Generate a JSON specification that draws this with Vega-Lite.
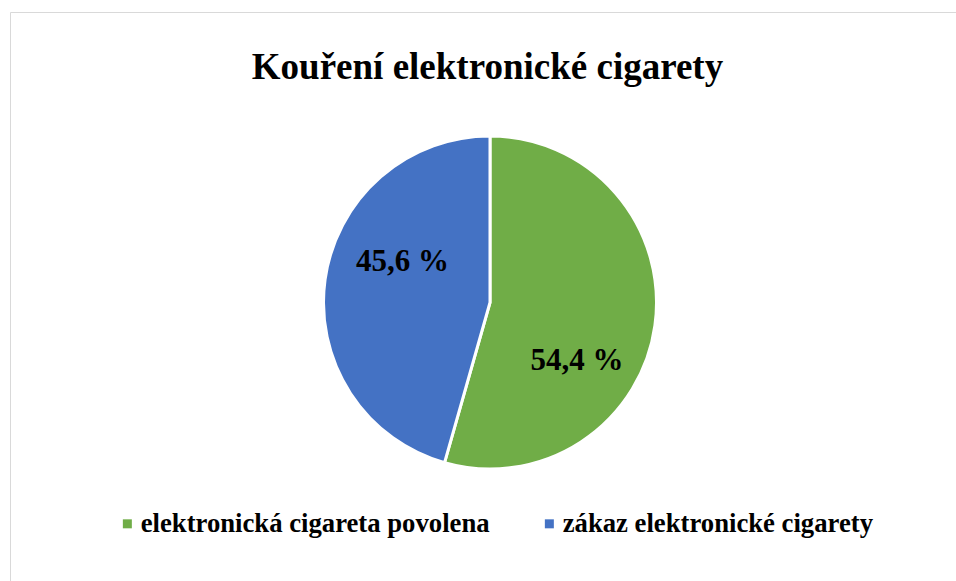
{
  "$schema": "https://vega.github.io/schema/vega-lite/v6.json",
  "width": 946,
  "height": 569,
  "autosize": {"type": "none"},
  "padding": {"left": 10, "top": 12, "right": 0, "bottom": 0},
  "background": "white",
  "view": {"stroke": "#d9d9d9", "strokeWidth": 1, "fill": "white"},
  "config": {
    "view": {"stroke": "#d9d9d9", "strokeWidth": 1},
    "font": "Liberation Serif"
  },
  "title": {
    "text": "Kouření elektronické cigarety",
    "font": "Liberation Serif",
    "fontSize": 37,
    "fontWeight": "bold",
    "color": "black",
    "anchor": "middle",
    "frame": "group",
    "baseline": "alphabetic",
    "offset": -66,
    "dx": 4.5,
    "dy": 38
  },
  "layer": [
    {
      "data": {
        "values": [
          {"kategorie": "elektronická cigareta povolena", "podil": 54.4, "poradi": 1},
          {"kategorie": "zákaz elektronické cigarety", "podil": 45.6, "poradi": 2}
        ]
      },
      "mark": {"type": "arc", "outerRadius": 166.5, "stroke": "white", "strokeWidth": 3, "xOffset": 7, "yOffset": 6},
      "encoding": {
        "theta": {"field": "podil", "type": "quantitative", "stack": true},
        "order": {"field": "poradi", "type": "quantitative"},
        "color": {
          "field": "kategorie",
          "type": "nominal",
          "scale": {
            "domain": ["elektronická cigareta povolena", "zákaz elektronické cigarety"],
            "range": ["#70AD47", "#4472C4"]
          },
          "legend": {
            "title": null,
            "orient": "none",
            "legendX": 104,
            "legendY": 498,
            "direction": "horizontal",
            "padding": 0,
            "symbolType": "square",
            "symbolSize": 81,
            "symbolStrokeWidth": 0,
            "labelFont": "Liberation Serif",
            "labelFontSize": 26.7,
            "labelFontWeight": "bold",
            "labelColor": "black",
            "labelOffset": 0,
            "labelLimit": 1000,
            "columnPadding": 46
          }
        }
      }
    },
    {
      "data": {
        "values": [
          {"popisek": "54,4 %", "uhel": 124.1, "vzdalenost": 105.1},
          {"popisek": "45,6 %", "uhel": 294.6, "vzdalenost": 96.2}
        ]
      },
      "mark": {
        "type": "text",
        "font": "Liberation Serif",
        "fontSize": 31,
        "fontWeight": "bold",
        "color": "black",
        "align": "center",
        "baseline": "middle",
        "xOffset": 7,
        "yOffset": 6
      },
      "encoding": {
        "theta": {"field": "uhel", "type": "quantitative", "stack": null, "scale": {"domain": [0, 360], "range": [0, 6.283185307]}},
        "radius": {"field": "vzdalenost", "type": "quantitative", "scale": {"type": "linear", "domain": [0, 100], "range": [0, 100], "zero": true}},
        "text": {"field": "popisek", "type": "nominal"}
      }
    }
  ],
  "resolve": {"scale": {"theta": "independent", "radius": "independent"}}
}
